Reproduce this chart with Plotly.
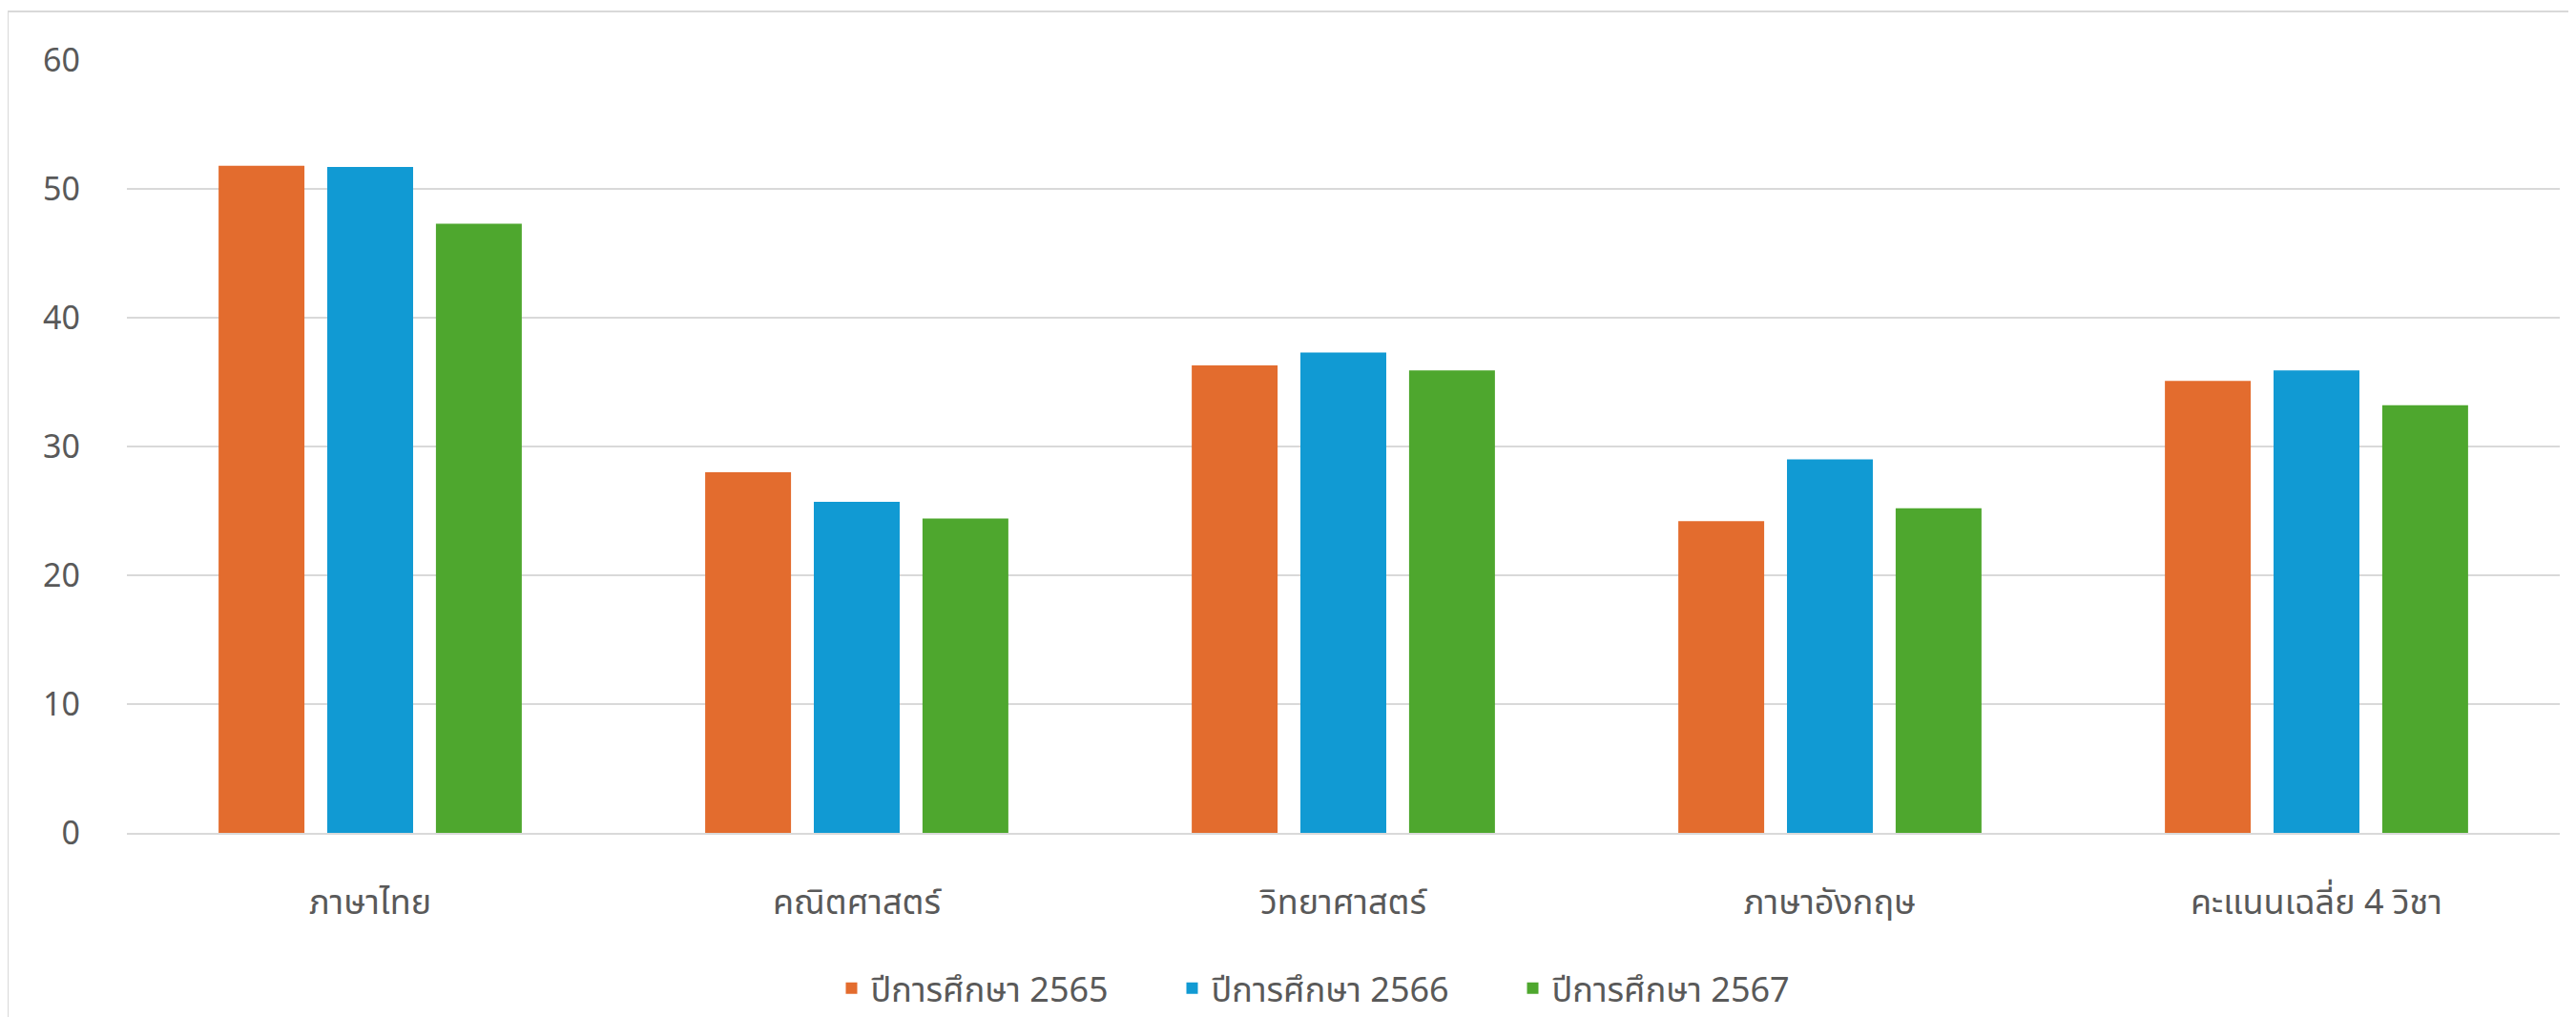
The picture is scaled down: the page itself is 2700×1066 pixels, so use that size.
import plotly.graph_objects as go

categories = ["ภาษาไทย", "คณิตศาสตร์", "วิทยาศาสตร์", "ภาษาอังกฤษ", "คะแนนเฉลี่ย 4 วิชา"]
series_names = ["ปีการศึกษา 2565", "ปีการศึกษา 2566", "ปีการศึกษา 2567"]
values_2565 = [51.8, 28.0, 36.3, 24.2, 35.1]
values_2566 = [51.7, 25.7, 37.3, 29.0, 35.9]
values_2567 = [47.3, 24.4, 35.9, 25.2, 33.2]
colors = ["#E36C2E", "#119AD3", "#4EA72E"]
y_ticks = [0, 10, 20, 30, 40, 50, 60]

FONT = "Noto Sans Thai, Leelawadee UI, Tahoma, Noto Sans, sans-serif"

fig = go.Figure()
for name, vals, col in zip(series_names, [values_2565, values_2566, values_2567], colors):
    fig.add_trace(go.Bar(x=categories, y=vals, name=name, marker=dict(color=col, line=dict(width=0))))

fig.update_layout(
    width=2692, height=1058,
    margin=dict(l=125, r=17, t=55, b=193, autoexpand=False),
    paper_bgcolor="white", plot_bgcolor="white",
    barmode="group", bargap=0.33, bargroupgap=0.21,
    font=dict(family=FONT, size=34, color="#595959"),
    legend=dict(orientation="h", x=0.5, xanchor="center", y=-0.238, yanchor="bottom",
                font=dict(size=36, color="#595959"), itemwidth=30, entrywidth=312,
                traceorder="normal"),
    showlegend=True,
    shapes=[dict(type="rect", xref="paper", yref="paper",
                 x0=-0.049, x1=1.05, y0=-0.40, y1=1.063,
                 line=dict(color="#D9D9D9", width=2), fillcolor="rgba(0,0,0,0)", layer="below")],
)
fig.update_yaxes(range=[0, 60], tickvals=y_ticks, showgrid=True, gridcolor="#D9D9D9", gridwidth=2,
                 zeroline=False, showline=False, ticks="", ticklabelstandoff=48,
                 tickfont=dict(size=34, color="#595959"))
fig.update_xaxes(showline=True, linecolor="#D9D9D9", linewidth=2, ticks="", ticklabelstandoff=40,
                 tickfont=dict(size=36, color="#595959"))

fig.write_html("out.html")
